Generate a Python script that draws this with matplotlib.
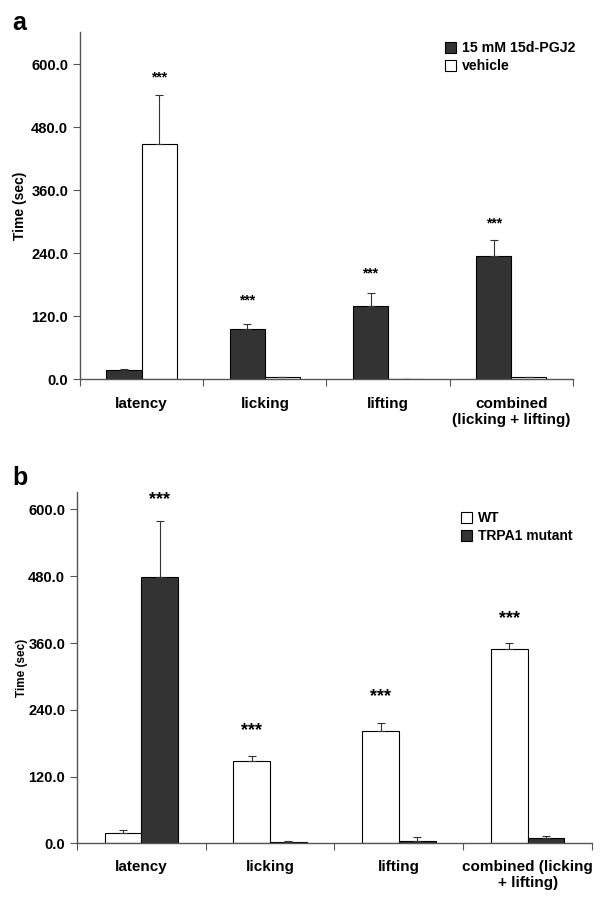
import numpy as np
import matplotlib
matplotlib.use("Agg")
import matplotlib.pyplot as plt
from matplotlib.patches import Patch

plt.rcParams['font.family'] = ['Liberation Sans', 'DejaVu Sans']
plt.rcParams['font.weight'] = 'bold'

# panel a data
cats_a = ['latency', 'licking', 'lifting', 'combined\n(licking + lifting)']
pgj2 = [17, 95, 139, 235]
pgj2_err = [3, 10, 24, 29]
vehicle = [448, 3, 0, 3]
vehicle_err = [93, 1.5, 0, 1.5]
stars_a_y = [575, 149, 202, 297]
stars_a_series = [1, 0, 0, 0]  # 0 = first bar, 1 = second bar

# panel b data
cats_b = ['latency', 'licking', 'lifting', 'combined (licking\n+ lifting)']
wt = [19, 149, 202, 349]
wt_err = [5, 9, 14, 12]
trpa1 = [479, 2, 5, 9]
trpa1_err = [100, 2, 7, 5]
stars_b_y = [618, 203, 263, 404]
stars_b_series = [1, 0, 0, 0]

ticks_y = [0, 120, 240, 360, 480, 600]
dark = '#333333'

fig = plt.figure(figsize=(6.01, 9.02), dpi=100)
ax_a = fig.add_axes([0.1331, 0.5798, 0.8203, 0.3847])
ax_b = fig.add_axes([0.1281, 0.0649, 0.8569, 0.3900])

w = 0.285


def draw_panel(ax, cats, s1, e1, c1, s2, e2, c2, labels, stars_y, stars_s,
               ymax, star_size, ylab_size, ylab_pad, leg_pos, leg_size, xpad):
    x = np.arange(len(cats))
    n = len(cats)
    ax.bar(x - w / 2, s1, w, color=c1, edgecolor='black', linewidth=0.8,
           yerr=[np.zeros(n), e1], capsize=3,
           error_kw=dict(elinewidth=0.8, capthick=0.8, ecolor='#333333'))
    ax.bar(x + w / 2, s2, w, color=c2, edgecolor='black', linewidth=0.8,
           yerr=[np.zeros(n), e2], capsize=3,
           error_kw=dict(elinewidth=0.8, capthick=0.8, ecolor='#333333'))
    for i, (sy, ss) in enumerate(zip(stars_y, stars_s)):
        xs = x[i] - w / 2 if ss == 0 else x[i] + w / 2
        ax.text(xs, sy, '***', ha='center', va='center', fontsize=star_size,
                fontweight='bold')
    ax.set_xlim(-0.5, n - 0.5)
    ax.set_ylim(0, ymax)
    ax.set_yticks(ticks_y)
    ax.set_yticklabels([f'{t:.1f}' for t in ticks_y], fontsize=10.5,
                       fontweight='bold')
    ax.set_xticks(np.arange(n + 1) - 0.5)
    ax.set_xticklabels([])
    ax.set_xticks(x, minor=True)
    ax.set_xticklabels(cats, minor=True, fontsize=11, fontweight='bold')
    ax.tick_params(axis='x', which='minor', length=0, pad=xpad)
    ax.tick_params(axis='x', which='major', length=5, direction='out',
                   color='#555555')
    ax.tick_params(axis='y', length=5, direction='out', color='#555555')
    for s in ['top', 'right']:
        ax.spines[s].set_visible(False)
    for s in ['left', 'bottom']:
        ax.spines[s].set_color('#555555')
        ax.spines[s].set_linewidth(1.0)
    ax.set_ylabel('Time (sec)', fontsize=ylab_size, fontweight='bold',
                  labelpad=ylab_pad)
    handles = [Patch(facecolor=c1, edgecolor='black', linewidth=0.8),
               Patch(facecolor=c2, edgecolor='black', linewidth=0.8)]
    ax.legend(handles, labels, loc='upper left', bbox_to_anchor=leg_pos,
              frameon=False, handlelength=0.8, handleheight=0.8,
              handletextpad=0.4, labelspacing=0.3, borderaxespad=0,
              prop=dict(weight='bold', size=leg_size))


draw_panel(ax_a, cats_a, pgj2, pgj2_err, dark, vehicle, vehicle_err, 'white',
           ['15 mM 15d-PGJ2', 'vehicle'], stars_a_y, stars_a_series,
           661, 10, 10, 3, (0.728, 0.99), 10.2, 13)
draw_panel(ax_b, cats_b, wt, wt_err, 'white', trpa1, trpa1_err, dark,
           ['WT', 'TRPA1 mutant'], stars_b_y, stars_b_series,
           632, 13, 8.5, 0, (0.735, 0.96), 10, 12)

fig.text(0.02, 0.975, 'a', fontsize=18, fontweight='bold', va='center')
fig.text(0.02, 0.47, 'b', fontsize=18, fontweight='bold', va='center')

fig.savefig('out.png', dpi=100)
